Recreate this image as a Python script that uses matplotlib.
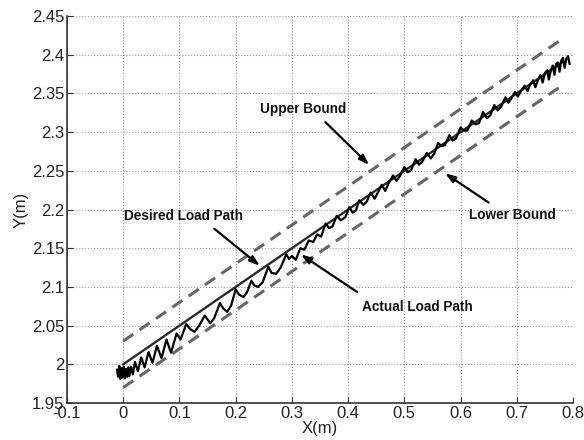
import numpy as np
import matplotlib.pyplot as plt

plt.rcParams['font.family'] = ['Liberation Sans', 'DejaVu Sans']

# desired path and bounds (end points)
desired_x = [0.0, 0.78]
desired_y = [2.0, 2.39]
upper_x = [0.0, 0.775]
upper_y = [2.03, 2.4175]
lower_x = [0.0, 0.775]
lower_y = [1.97, 2.3575]

# actual load path
actual_x = [-0.011, -0.009, -0.007, -0.005, -0.003, -0.001, 0.001, 0.003, 0.005, 0.007,
            0.009, 0.011, 0.014, 0.017, 0.021, 0.026, 0.032, 0.038, 0.045, 0.052,
            0.060, 0.068, 0.077, 0.085, 0.095, 0.102, 0.112, 0.120, 0.127, 0.135,
            0.145, 0.150, 0.155, 0.162, 0.172, 0.178, 0.185, 0.192, 0.200, 0.206,
            0.214, 0.220, 0.228, 0.233, 0.240, 0.248, 0.258, 0.264, 0.272, 0.280,
            0.290, 0.295, 0.300, 0.307, 0.315, 0.322, 0.330, 0.338, 0.345, 0.352,
            0.360, 0.366, 0.372, 0.380, 0.387, 0.395, 0.402, 0.408, 0.414, 0.420,
            0.427, 0.433, 0.440, 0.447, 0.453, 0.460, 0.466, 0.472, 0.480, 0.486,
            0.492, 0.500, 0.506, 0.512, 0.520, 0.526, 0.532, 0.540, 0.547, 0.553,
            0.560, 0.566, 0.572, 0.580, 0.586, 0.592, 0.600, 0.606, 0.612, 0.620,
            0.627, 0.633, 0.640, 0.647, 0.653, 0.660, 0.666, 0.672, 0.680, 0.685,
            0.690, 0.697, 0.702, 0.708, 0.714, 0.719, 0.724, 0.729, 0.733, 0.738,
            0.742, 0.746, 0.750, 0.754, 0.757, 0.761, 0.764, 0.767, 0.770, 0.773,
            0.776, 0.779, 0.782, 0.785, 0.788, 0.791, 0.794]
actual_y = [1.993, 1.984, 1.998, 1.981, 1.995, 1.983, 1.997, 1.982, 1.994, 1.984,
            1.996, 1.985, 1.997, 1.987, 2.003, 1.991, 2.009, 1.996, 2.016, 2.002,
            2.024, 2.008, 2.032, 2.015, 2.040, 2.032, 2.052, 2.045, 2.042, 2.050,
            2.063, 2.058, 2.053, 2.060, 2.079, 2.072, 2.068, 2.076, 2.097, 2.090,
            2.087, 2.093, 2.108, 2.102, 2.100, 2.106, 2.126, 2.118, 2.117, 2.125,
            2.142, 2.136, 2.140, 2.135, 2.150, 2.148, 2.160, 2.158, 2.168, 2.165,
            2.182, 2.176, 2.178, 2.192, 2.186, 2.190, 2.203, 2.196, 2.199, 2.212,
            2.206, 2.210, 2.222, 2.214, 2.222, 2.232, 2.224, 2.234, 2.244, 2.237,
            2.243, 2.255, 2.248, 2.251, 2.265, 2.258, 2.262, 2.273, 2.266, 2.272,
            2.286, 2.282, 2.283, 2.296, 2.289, 2.292, 2.306, 2.302, 2.302, 2.315,
            2.310, 2.312, 2.326, 2.318, 2.322, 2.335, 2.328, 2.333, 2.345, 2.338,
            2.343, 2.352, 2.346, 2.354, 2.360, 2.353, 2.362, 2.367, 2.358, 2.368,
            2.374, 2.364, 2.376, 2.380, 2.368, 2.381, 2.386, 2.374, 2.388, 2.390,
            2.378, 2.392, 2.396, 2.383, 2.395, 2.398, 2.388]

fig = plt.figure(figsize=(5.84, 4.4), dpi=100)
ax = fig.add_axes([0.1147, 0.084, 0.8665, 0.8796])

ax.plot(upper_x, upper_y, '--', color='#666666', lw=2.2, dashes=(4, 2.5))
ax.plot(lower_x, lower_y, '--', color='#666666', lw=2.2, dashes=(4, 2.5))
ax.plot(desired_x, desired_y, '-', color='#2a2a2a', lw=1.7)
ax.plot(actual_x, actual_y, '-', color='black', lw=1.6)

ax.set_xlim(-0.1, 0.8)
ax.set_ylim(1.95, 2.45)
ax.set_xticks(np.arange(-0.1, 0.81, 0.1))
ax.set_yticks(np.arange(1.95, 2.451, 0.05))
ax.set_xticklabels(['-0.1', '0', '0.1', '0.2', '0.3', '0.4', '0.5', '0.6', '0.7', '0.8'])
ax.set_yticklabels(['1.95', '2', '2.05', '2.1', '2.15', '2.2', '2.25', '2.3', '2.35', '2.4', '2.45'])
ax.grid(True, linestyle=':', color='#999999', lw=0.8)
ax.tick_params(direction='in', length=4, labelsize=12, pad=2, color='#333333',
               labelcolor='#222222')
ax.spines['top'].set_visible(False)
ax.spines['right'].set_visible(False)
for s in ['left', 'bottom']:
    ax.spines[s].set_color('#333333')
    ax.spines[s].set_linewidth(1.2)

ax.set_xlabel('X(m)', fontsize=12, labelpad=0, color='#222222')
ax.set_ylabel('Y(m)', fontsize=12, labelpad=2, color='#222222')

arrow = dict(arrowstyle='-|>,head_length=0.6,head_width=0.2', color='black', lw=1.6)
labels = [('Upper Bound', 0.320, 2.330, (0.356, 2.3155), (0.441, 2.255)),
          ('Lower Bound', 0.693, 2.193, (0.654, 2.207), (0.568, 2.249)),
          ('Desired Load Path', 0.107, 2.191, (0.158, 2.1776), (0.247, 2.125)),
          ('Actual Load Path', 0.523, 2.074, (0.420, 2.0915), (0.312, 2.144))]
for txt, tx, ty, tail, head in labels:
    ax.text(tx, ty, txt, fontsize=9.8, fontweight='bold', ha='center', va='center',
            color='#111111')
    ax.annotate('', xy=head, xytext=tail, arrowprops=arrow)

fig.savefig('out.png', dpi=100)
